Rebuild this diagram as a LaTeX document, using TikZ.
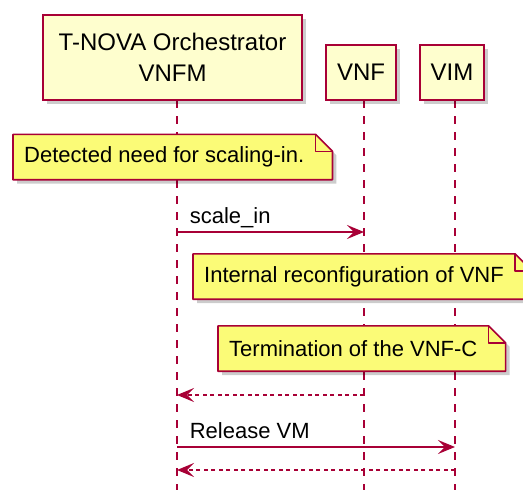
\documentclass[tikz,border=0pt]{standalone}
\usepackage{fontspec}
\setmainfont{Liberation Sans}
\usepackage{xcolor}
\usepackage{tikz}
\usetikzlibrary{arrows.meta, positioning, shadows, backgrounds, calc}

\definecolor{umlred}{HTML}{A80036}
\definecolor{partfill}{HTML}{FEFECE}
\definecolor{notefill}{HTML}{FBFB77}

\begin{document}
\begin{tikzpicture}[
    x=1pt,
    y=-1pt,
    part/.style={rectangle, draw=umlred, fill=partfill, line width=2.4pt,
                 align=center, inner sep=0pt,
                 font=\fontsize{24}{31}\selectfont,
                 drop shadow={shadow xshift=4pt, shadow yshift=-4pt,
                              fill=black, opacity=0.2}},
    notetxt/.style={anchor=west, inner xsep=11pt, inner ysep=0pt,
                    minimum height=45pt, font=\fontsize{22}{26}\selectfont},
    notebox/.style={draw=umlred, fill=notefill, line width=1.6pt,
                    line join=round,
                    drop shadow={shadow xshift=4pt, shadow yshift=-4pt,
                                 fill=black, opacity=0.2}},
    life/.style={umlred, line width=1.6pt, dash pattern=on 8pt off 8pt},
    msg/.style={-{Stealth[length=17pt, width=14pt, inset=7pt]},
                umlred, line width=1.6pt},
    reply/.style={msg, dash pattern=on 4pt off 3.5pt},
    lbl/.style={anchor=base west, inner sep=0pt, text=black,
                font=\fontsize{22}{26}\selectfont},
]
\useasboundingbox (0,0) rectangle (523,490);
\clip (0,0) rectangle (523,490);

% participants
\node[part, minimum width=259pt, minimum height=85pt] (orch) at (172.5,57.5)
    {T-NOVA Orchestrator\\VNFM};
\node[part, minimum width=70pt, minimum height=55pt] (vnf) at (361,72.5) {VNF};
\node[part, minimum width=64pt, minimum height=55pt] (vim) at (452,72.5) {VIM};

% lifelines and message rows
\coordinate (lo) at (177,100);
\coordinate (lv) at (364,100);
\coordinate (lm) at (455,100);
\coordinate (r1) at (0,232);
\coordinate (r2) at (0,395);
\coordinate (r3) at (0,447);
\coordinate (r4) at (0,470);

% notes
\node[notetxt] (n1) at (13,157)  {Detected need for scaling-in.};
\node[notetxt] (n2) at (193,276.5) {Internal reconfiguration of VNF};
\node[notetxt] (n3) at (218,348.5) {Termination of the VNF-C};

\begin{scope}[on background layer]
\foreach \l in {lo,lv,lm}
    \draw[life] (\l) -- (\l |- 0,490);
\foreach \n in {n1,n2,n3}{
    \path[notebox] (\n.north west) -- (\n.north east)
        -- ([shift={(17pt,-17pt)}]\n.north east)
        -- ([xshift=17pt]\n.south east) -- (\n.south west) -- cycle;
    \draw[umlred, line width=1.6pt, line join=round] (\n.north east)
        -- ([yshift=-17pt]\n.north east)
        -- ([shift={(17pt,-17pt)}]\n.north east);
}
\end{scope}

% messages
\draw[msg] (lo |- r1) -- node[lbl, pos=0, xshift=12pt, yshift=9pt] {scale\_in}
    (lv |- r1);
\draw[reply] (lv |- r2) -- (lo |- r2);
\draw[msg] (lo |- r3) -- node[lbl, pos=0, xshift=12pt, yshift=9pt] {Release VM}
    (lm |- r3);
\draw[reply] (lm |- r4) -- (lo |- r4);
\end{tikzpicture}
\end{document}
